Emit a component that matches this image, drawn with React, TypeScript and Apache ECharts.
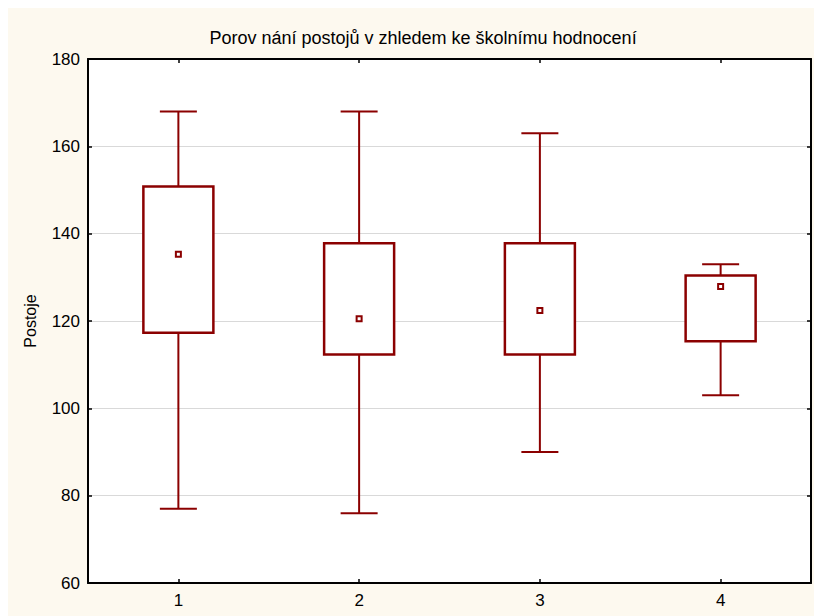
import React, { useEffect, useRef } from "react";
import * as echarts from "echarts";

const categories = ["1", "2", "3", "4"];
const minValues = [77, 76, 90, 103];
const q1Values = [117.3, 112.3, 112.3, 115.35];
const q3Values = [150.8, 137.8, 137.8, 130.4];
const maxValues = [168, 168, 163, 133];
const centerValues = [135.3, 120.5, 122.4, 127.9];
const yTicks = { min: 60, max: 180, interval: 20 };

const RED = "#8b0000";
const FONT = "Liberation Sans, Arial, sans-serif";

export default function App() {
  const ref = useRef<HTMLDivElement>(null);
  useEffect(() => {
    if (!ref.current) return;
    const chart = echarts.init(ref.current, null, { renderer: "svg" });
    const boxData = categories.map((_, i) => [i, minValues[i], q1Values[i], q3Values[i], maxValues[i]]);
    const meanData = categories.map((_, i) => [i, centerValues[i]]);
    const axisLine = { show: true, onZero: false, lineStyle: { color: "#000", width: 2 } };
    const tick = { show: true, inside: true, length: 4, lineStyle: { color: "#000", width: 1.5 } };
    chart.setOption({
      animation: false,
      backgroundColor: "#fdf9ef",
      title: {
        text: "Porov nání postojů v zhledem ke školnímu hodnocení",
        left: 410,
        top: 16,
        textAlign: "center",
        textStyle: { fontFamily: FONT, fontSize: 18, fontWeight: "normal", color: "#000" },
      },
      grid: { left: 80, top: 51, right: 3, bottom: 33, show: true, backgroundColor: "#fff", borderWidth: 0 },
      xAxis: [
        {
          type: "category",
          data: categories,
          position: "bottom",
          axisLine,
          axisTick: { ...tick, alignWithLabel: true },
          axisLabel: { fontFamily: FONT, fontSize: 17, color: "#000", margin: 9 },
          splitLine: { show: false },
        },
        {
          type: "category",
          data: categories,
          position: "top",
          axisLine,
          axisTick: { ...tick, alignWithLabel: true },
          axisLabel: { show: false },
          splitLine: { show: false },
        },
      ],
      yAxis: [
        {
          type: "value",
          min: yTicks.min,
          max: yTicks.max,
          interval: yTicks.interval,
          position: "left",
          name: "Postoje",
          nameLocation: "middle",
          nameGap: 50,
          nameRotate: 90,
          nameTextStyle: { fontFamily: FONT, fontSize: 16, color: "#000" },
          axisLine,
          axisTick: tick,
          axisLabel: { fontFamily: FONT, fontSize: 17, color: "#000", margin: 8 },
          splitLine: { show: true, lineStyle: { color: "#d9d9d9", width: 1 } },
        },
        {
          type: "value",
          min: yTicks.min,
          max: yTicks.max,
          interval: yTicks.interval,
          position: "right",
          axisLine,
          axisTick: tick,
          axisLabel: { show: false },
          splitLine: { show: false },
        },
      ],
      series: [
        {
          type: "custom",
          xAxisIndex: 0,
          yAxisIndex: 0,
          data: boxData,
          encode: { x: 0, y: [1, 2, 3, 4] },
          renderItem: (params: any, api: any) => {
            const idx = api.value(0);
            const pMin = api.coord([idx, api.value(1)]);
            const pQ1 = api.coord([idx, api.value(2)]);
            const pQ3 = api.coord([idx, api.value(3)]);
            const pMax = api.coord([idx, api.value(4)]);
            const cx = pMin[0];
            const boxW = 70;
            const capW = 37;
            const ls = { stroke: RED, lineWidth: 2, fill: "none" };
            return {
              type: "group",
              children: [
                { type: "line", shape: { x1: cx, y1: pMax[1], x2: cx, y2: pQ3[1] }, style: ls },
                { type: "line", shape: { x1: cx, y1: pQ1[1], x2: cx, y2: pMin[1] }, style: ls },
                { type: "line", shape: { x1: cx - capW / 2, y1: pMax[1], x2: cx + capW / 2, y2: pMax[1] }, style: ls },
                { type: "line", shape: { x1: cx - capW / 2, y1: pMin[1], x2: cx + capW / 2, y2: pMin[1] }, style: ls },
                {
                  type: "rect",
                  shape: { x: cx - boxW / 2, y: pQ3[1], width: boxW, height: pQ1[1] - pQ3[1] },
                  style: { stroke: RED, lineWidth: 2.5, fill: "#fff" },
                },
              ],
            };
          },
          z: 2,
        },
        {
          type: "scatter",
          xAxisIndex: 0,
          yAxisIndex: 0,
          data: meanData,
          symbol: "rect",
          symbolSize: 5,
          itemStyle: { color: "#fff", borderColor: RED, borderWidth: 2, opacity: 1 },
          z: 3,
        },
      ],
    });
    return () => chart.dispose();
  }, []);
  return (
    <div
      ref={ref}
      style={{ position: "fixed", left: 8, top: 8, width: 806, height: 608 }}
    />
  );
}
